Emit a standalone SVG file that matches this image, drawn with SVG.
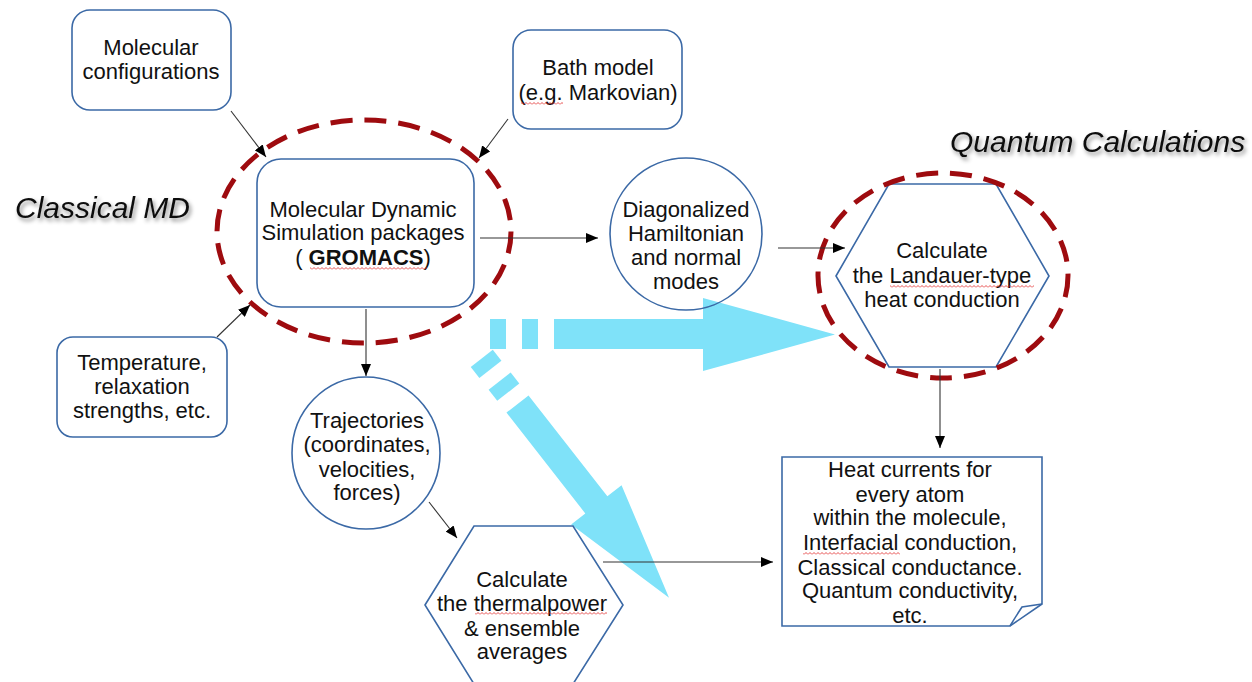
<svg xmlns="http://www.w3.org/2000/svg" width="1252" height="682" viewBox="0 0 1252 682">
<style>
  .node { fill: none; stroke: #3b69a6; stroke-width: 1.6; }
  .t { font-family: "Liberation Sans", Arial, sans-serif; font-size: 22px; fill: #111; text-anchor: middle; }
  .title { font-family: "Liberation Sans", Arial, sans-serif; font-size: 30px; font-style: italic; fill: #111; }
  .hl { fill: none; stroke: #9e0b0f; stroke-width: 5; stroke-dasharray: 22 12; }
  .blue { fill: #7fe2f9; stroke: none; }
  .con { fill: none; stroke: #333; stroke-width: 1.1; }
</style>
<defs>
  <marker id="ah" viewBox="0 0 12 10" refX="12" refY="5" markerWidth="12" markerHeight="10" markerUnits="userSpaceOnUse" orient="auto">
    <path d="M0,0 L12,5 L0,10 z" fill="#000"/>
  </marker>
  <filter id="sh" x="-10%" y="-30%" width="130%" height="170%">
    <feDropShadow dx="2" dy="3" stdDeviation="2" flood-color="#000" flood-opacity="0.45"/>
  </filter>
  <pattern id="sq" width="4" height="3" patternUnits="userSpaceOnUse">
    <path d="M0,2.5 L2,0.5 L4,2.5" fill="none" stroke="#e02020" stroke-width="0.8"/>
  </pattern>
</defs>

<!-- big light-blue flow arrows -->
<g id="flow-arrows">
  <rect class="blue" x="490" y="319" width="16" height="30"/>
  <rect class="blue" x="522" y="319" width="16" height="30"/>
  <polygon class="blue" points="554,319 703,319 703,298 835,334.5 703,371 703,349 554,349"/>
  <g transform="translate(517.5,404) rotate(51.98)">
    <rect class="blue" x="-58" y="-14" width="14" height="28"/>
    <rect class="blue" x="-29" y="-14" width="14" height="28"/>
    <polygon class="blue" points="0,-14 128,-14 128,-32 246,0 128,32 128,14 0,14"/>
  </g>
</g>

<!-- titles -->
<g id="title-classical">
  <text class="title" x="15" y="218" filter="url(#sh)">Classical MD</text>
</g>
<g id="title-quantum">
  <text class="title" x="950" y="152" filter="url(#sh)">Quantum Calculations</text>
</g>

<g id="n-molconf">
  <rect class="node" x="72" y="10" width="159" height="100" rx="18"/>
  <text class="t" x="151" y="55">Molecular</text>
  <text class="t" x="151" y="79">configurations</text>
</g>

<g id="n-bath">
  <rect class="node" x="513" y="30" width="169" height="99" rx="18"/>
  <text class="t" x="598" y="75">Bath model</text>
  <text class="t" x="598" y="100">(e.g. Markovian)</text>
  <rect x="521" y="102" width="42" height="3" fill="url(#sq)"/>
</g>

<g id="n-md">
  <rect class="node" x="257" y="159" width="217" height="148" rx="24"/>
  <text class="t" x="363" y="217">Molecular Dynamic</text>
  <text class="t" x="363" y="240">Simulation packages</text>
  <text class="t" x="363" y="265">( <tspan font-weight="bold">GROMACS</tspan>)</text>
  <rect x="310" y="267" width="117" height="3" fill="url(#sq)"/>
</g>

<g id="n-temp">
  <rect class="node" x="57" y="337" width="170" height="100" rx="16"/>
  <text class="t" x="142" y="370">Temperature,</text>
  <text class="t" x="142" y="394">relaxation</text>
  <text class="t" x="142" y="418">strengths, etc.</text>
</g>

<g id="n-diag">
  <ellipse class="node" cx="686" cy="234" rx="76" ry="76"/>
  <text class="t" x="686" y="217">Diagonalized</text>
  <text class="t" x="686" y="241">Hamiltonian</text>
  <text class="t" x="686" y="265">and normal</text>
  <text class="t" x="686" y="289">modes</text>
</g>

<g id="n-landauer">
  <polygon class="node" points="836,276 889,184 996,184 1049,276 996,367 889,367"/>
  <text class="t" x="942" y="258">Calculate</text>
  <text class="t" x="942" y="283">the Landauer-type</text>
  <text class="t" x="942" y="307">heat conduction</text>
  <rect x="890" y="285" width="144" height="3" fill="url(#sq)"/>
</g>

<g id="n-traj">
  <ellipse class="node" cx="366" cy="453" rx="74" ry="76"/>
  <text class="t" x="367" y="428">Trajectories</text>
  <text class="t" x="367" y="452">(coordinates,</text>
  <text class="t" x="367" y="477">velocities,</text>
  <text class="t" x="367" y="500">forces)</text>
</g>

<g id="n-thermal">
  <polygon class="node" points="425,605 474,526 573,526 623,605 573,684 474,684"/>
  <text class="t" x="522" y="587">Calculate</text>
  <text class="t" x="522" y="611">the thermalpower</text>
  <text class="t" x="522" y="636">&amp; ensemble</text>
  <text class="t" x="522" y="659">averages</text>
  <rect x="475" y="612" width="132" height="3" fill="url(#sq)"/>
</g>

<g id="n-heat">
  <path class="node" d="M782,457 L1042,457 L1042,604 L1010,626 L782,626 Z"/>
  <path class="node" d="M1042,604 L1022,607 Q1016,616 1010,626"/>
  <text class="t" x="910" y="477">Heat currents for</text>
  <text class="t" x="910" y="502">every atom</text>
  <text class="t" x="910" y="525">within the molecule,</text>
  <text class="t" x="910" y="550">Interfacial conduction,</text>
  <text class="t" x="910" y="575">Classical conductance.</text>
  <text class="t" x="910" y="598">Quantum conductivity,</text>
  <text class="t" x="910" y="623">etc.</text>
  <rect x="803" y="552" width="97" height="3" fill="url(#sq)"/>
</g>

<!-- red dashed highlights -->
<g id="highlights">
  <ellipse class="hl" cx="364" cy="231.5" rx="147" ry="111.5"/>
  <ellipse class="hl" cx="943" cy="275.5" rx="125" ry="102.5"/>
</g>

<g id="connectors">
  <line class="con" x1="231" y1="111" x2="266" y2="157" marker-end="url(#ah)"/>
  <line class="con" x1="508" y1="119" x2="479" y2="158" marker-end="url(#ah)"/>
  <line class="con" x1="217" y1="337" x2="250" y2="305" marker-end="url(#ah)"/>
  <line class="con" x1="480" y1="238" x2="598" y2="238" marker-end="url(#ah)"/>
  <line class="con" x1="778" y1="248" x2="845" y2="248" marker-end="url(#ah)"/>
  <line class="con" x1="366" y1="309" x2="366" y2="376" marker-end="url(#ah)"/>
  <line class="con" x1="429" y1="502" x2="457" y2="538" marker-end="url(#ah)"/>
  <line class="con" x1="940" y1="369" x2="940" y2="448" marker-end="url(#ah)"/>
  <line class="con" x1="603" y1="562" x2="773" y2="562" stroke="#888" marker-end="url(#ah)"/>
</g>
</svg>
